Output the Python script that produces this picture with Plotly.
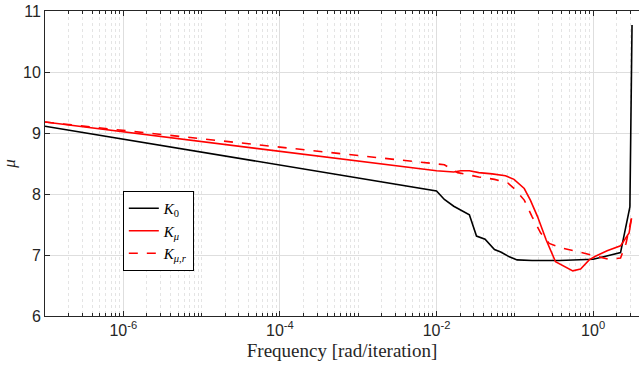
import plotly.graph_objects as go

# ---- data ----
f_k0 = [1e-7, 1.0e-2, 1.26e-2, 1.66e-2, 2.63e-2, 3.24e-2, 4.17e-2, 5.50e-2, 6.61e-2,
        8.51e-2, 0.107, 0.166, 0.372, 1.0, 1.45, 2.24, 2.95, 3.14]
v_k0 = [9.11, 8.05, 7.91, 7.80, 7.66, 7.31, 7.26, 7.09, 7.05,
        6.97, 6.92, 6.91, 6.91, 6.93, 6.98, 7.04, 7.79, 10.77]

f_kmu = [1e-7, 1.0e-2, 1.66e-2, 2.04e-2, 2.63e-2, 3.47e-2, 5.13e-2, 7.59e-2, 9.77e-2,
         0.132, 0.158, 0.195, 0.251, 0.331, 0.550, 0.692, 0.891, 1.07, 1.51, 2.24, 2.88, 3.09]
v_kmu = [9.18, 8.38, 8.36, 8.38, 8.38, 8.35, 8.33, 8.30, 8.24,
         8.09, 7.90, 7.63, 7.25, 6.89, 6.74, 6.77, 6.92, 6.98, 7.07, 7.15, 7.36, 7.60]

f_kmur = [1e-7, 1.0e-2, 1.26e-2, 1.86e-2, 2.34e-2, 3.47e-2, 5.50e-2, 8.13e-2, 0.102,
          0.132, 0.166, 0.214, 0.275, 0.407, 0.661, 1.07, 1.58, 2.24, 2.63, 3.09]
v_kmur = [9.18, 8.50, 8.48, 8.35, 8.32, 8.28, 8.24, 8.18, 8.07,
          7.90, 7.63, 7.36, 7.19, 7.11, 7.05, 6.99, 6.93, 6.95, 7.19, 7.60]

names = ["<i>K</i><sub>0</sub>", "<i>K</i><sub><i>μ</i></sub>", "<i>K</i><sub><i>μ,r</i></sub>"]

x_major = [1e-6, 1e-4, 1e-2, 1]
x_major_text = ["10<sup>-6</sup>", "10<sup>-4</sup>", "10<sup>-2</sup>", "10<sup>0</sup>"]
y_ticks = [6, 7, 8, 9, 10, 11]

# minor ticks/grid at every k*10^n
x_minor = [k * 10.0 ** n for n in range(-7, 1) for k in range(1, 10)
           if k * 10.0 ** n not in x_major]

fig = go.Figure()
fig.add_trace(go.Scatter(x=f_k0, y=v_k0, mode="lines", name=names[0],
                         line=dict(color="black", width=1.6)))
fig.add_trace(go.Scatter(x=f_kmu, y=v_kmu, mode="lines", name=names[1],
                         line=dict(color="#ff0000", width=1.6)))
fig.add_trace(go.Scatter(x=f_kmur, y=v_kmur, mode="lines", name=names[2],
                         line=dict(color="#ff0000", width=1.6, dash="dash")))

axcol = "#262626"
serif = "Liberation Serif, DejaVu Serif, serif"
fig.update_layout(
    width=639, height=369,
    margin=dict(l=45, r=0, t=11, b=53, autoexpand=False),
    paper_bgcolor="white", plot_bgcolor="white",
    font=dict(family="Liberation Sans, Arial, sans-serif", size=16, color=axcol),
    showlegend=True,
    legend=dict(x=0.131, y=0.41, xanchor="left", yanchor="top",
                bgcolor="white", bordercolor="black", borderwidth=1,
                font=dict(family=serif, size=15, color="black"),
                itemwidth=30, tracegroupgap=0),
    xaxis=dict(
        type="log", range=[-7, 0.586],
        tickmode="array", tickvals=x_major, ticktext=x_major_text,
        ticks="inside", ticklen=5, tickcolor=axcol, tickwidth=1,
        showline=True, linecolor=axcol, linewidth=1, mirror="allticks",
        showgrid=True, gridcolor="#dedede", gridwidth=1,
        zeroline=False,
        tickfont=dict(size=16, color=axcol),
        minor=dict(tickmode="array", tickvals=x_minor, ticks="inside", ticklen=3,
                   tickcolor=axcol, showgrid=True, gridcolor="#e4e4e4",
                   griddash="dot", gridwidth=1),
        title=dict(text="Frequency [rad/iteration]", standoff=5,
                   font=dict(family=serif, size=19, color=axcol)),
    ),
    yaxis=dict(
        range=[6, 11], tickmode="array", tickvals=y_ticks,
        ticks="inside", ticklen=5, tickcolor=axcol,
        showline=True, linecolor=axcol, linewidth=1, mirror=False,
        showgrid=True, gridcolor="#dedede", gridwidth=1,
        zeroline=False,
        tickfont=dict(size=16, color=axcol),
        title=dict(text="<i>μ</i>", standoff=10,
                   font=dict(family=serif, size=17, color=axcol)),
    ),
)

fig.write_html("out.html", config={"displayModeBar": False},
               post_script="document.body.style.margin='0';document.body.style.overflow='hidden';")
